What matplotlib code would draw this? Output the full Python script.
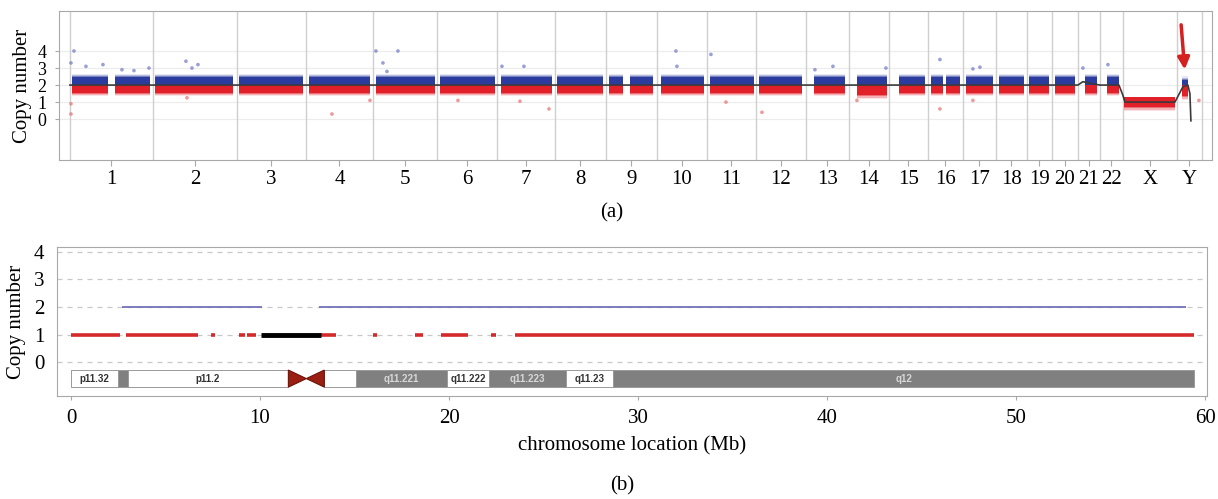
import numpy as np
import matplotlib.pyplot as plt

plt.rcParams['font.family'] = ['Liberation Serif', 'DejaVu Serif']

# ---------------- panel (a): whole-genome copy number ----------------
chrom_names = ['1', '2', '3', '4', '5', '6', '7', '8', '9', '10', '11', '12',
               '13', '14', '15', '16', '17', '18', '19', '20', '21', '22', 'X', 'Y']
chrom_len_mb = [249, 252, 207, 201, 192, 180, 174, 153, 153, 150, 147, 150,
                129, 120, 117, 105, 99, 93, 75, 78, 66, 69, 162, 75]
# probe-covered stretches inside each chromosome (Mb from chromosome start)
probe_segments = [
    [(6, 114), (135, 240)], [(6, 240)], [(6, 198)], [(9, 192)], [(9, 186)],
    [(9, 174)], [(12, 165)], [(6, 144)], [(9, 51), (72, 141)], [(12, 141)],
    [(9, 141)], [(9, 138)], [(24, 117)], [(24, 114)], [(30, 108)],
    [(9, 45), (54, 96)], [(9, 90)], [(9, 84)], [(6, 66)], [(9, 69)],
    [(21, 57)], [(21, 57)], [(3, 156)], [(15, 33)],
]
cloud_mid = [2.0] * 22 + [1.3, 2.0]
cloud_top = [2.45] * 22 + [1.3, 2.3]
cloud_bot = [1.55] * 13 + [1.4] + [1.55] * 8 + [0.7, 1.35]

# scattered outlier probes
out_chrom = ['1', '1', '1', '1', '1', '1', '1', '1', '1', '2', '2', '2', '2',
             '4', '4', '5', '5', '5', '5', '6', '7', '7', '7', '7', '10', '10',
             '11', '11', '12', '13', '13', '14', '14', '16', '16', '17', '17',
             '17', '21', '22', 'Y']
out_pos = [12, 3, 3, 3, 48, 99, 156, 192, 237, 99, 117, 135, 102,
           78, 192, 9, 75, 30, 42, 63, 15, 81, 69, 156, 57, 60,
           12, 57, 18, 81, 27, 111, 24, 36, 36, 30, 51,
           30, 15, 24, 66]
out_cn = [4.0, 3.3, 0.9, 0.3, 3.1, 3.2, 2.9, 2.85, 3.0, 3.4, 3.0, 3.2, 1.25,
          0.3, 1.1, 4.0, 4.0, 3.3, 2.8, 1.1, 3.1, 3.1, 1.05, 0.6, 4.0, 3.1,
          3.8, 1.0, 0.4, 3.1, 2.9, 3.0, 1.1, 3.5, 0.6, 2.95, 3.05,
          1.1, 3.0, 3.2, 1.1]

# smoothed segmentation line (genome Mb, copy number)
seg_x = [0, 3024, 3039, 3060, 3090, 3147, 3159, 3165, 3315, 3339, 3354, 3360, 3363]
seg_y = [2.0, 2.0, 2.2, 2.1, 2.0, 2.0, 1.4, 1.0, 1.0, 1.9, 2.0, 1.5, -0.1]

# ---------------- panel (b): single chromosome detail ----------------
band_names = ['p11.32', '', 'p11.2', '', '', 'q11.221', 'q11.222', 'q11.223', 'q11.23', 'q12']
band_start = [0, 2.5, 3.0, 11.5, 13.4, 15.1, 19.9, 22.1, 26.2, 28.7]
band_end = [2.5, 3.0, 11.5, 13.4, 15.1, 19.9, 22.1, 26.2, 28.7, 59.4]
band_stain = ['w', 'g', 'w', 'cen', 'w', 'g', 'w', 'g', 'w', 'g']

cn2_start = [2.7, 13.1]
cn2_end = [10.1, 59.0]
cn1_start = [0, 2.9, 7.4, 8.9, 9.3, 13.2, 16.0, 18.2, 19.6, 22.2, 23.5]
cn1_end = [2.6, 6.7, 7.6, 9.2, 9.8, 14.0, 16.2, 18.6, 21.0, 22.5, 59.4]
cn1_loss_start = [10.05]
cn1_loss_end = [13.2]

BLUE = '#2c3c9e'
RED = '#e2202a'
GRID = '#c8c8c8'
SPINE = '#a8a8a8'

fig = plt.figure(figsize=(12.18, 4.99), dpi=100)
ax_a = fig.add_axes([0.0484, 0.679, 0.9466, 0.299])
ax_b = fig.add_axes([0.0468, 0.206, 0.9442, 0.299])

# ----- panel (a) -----
offsets = np.concatenate([[0], np.cumsum(chrom_len_mb)])
total = offsets[-1]
for yv in [0, 1, 2, 3, 4]:
    ax_a.axhline(yv, color='#ececec', lw=0.8, zorder=0)
for b in offsets:
    ax_a.axvline(b, color='#cfcfcf', lw=1.0, zorder=1)

# soft edges: a few translucent layers around a dense core
halo = [(0.22, 0.12), (0.14, 0.25), (0.07, 0.45)]
for i, segs in enumerate(probe_segments):
    for s, e in segs:
        xs = [offsets[i] + s, offsets[i] + e]
        for ext, a in halo:
            if cloud_top[i] > cloud_mid[i]:
                ax_a.fill_between(xs, cloud_mid[i], cloud_top[i] + ext, color=BLUE,
                                  alpha=a, lw=0, zorder=2)
            ax_a.fill_between(xs, cloud_bot[i] - ext, cloud_mid[i], color=RED,
                              alpha=a, lw=0, zorder=2)
        if cloud_top[i] > cloud_mid[i]:
            ax_a.fill_between(xs, cloud_mid[i], cloud_top[i], color=BLUE, lw=0, zorder=3)
        ax_a.fill_between(xs, cloud_bot[i], cloud_mid[i], color=RED, lw=0, zorder=3)

ox = [offsets[chrom_names.index(c)] + p for c, p in zip(out_chrom, out_pos)]
oc = ['#7880c8' if v > 2 else '#e87878' for v in out_cn]
ax_a.scatter(ox, out_cn, s=7, c=oc, alpha=0.75, lw=0, zorder=4)

ax_a.plot(seg_x, seg_y, color='#3a3a3a', lw=1.2, zorder=5)

ax_a.annotate('', xy=(3345, 2.75), xytext=(3333, 5.7),
              arrowprops=dict(arrowstyle='-|>,head_length=0.7,head_width=0.35',
                              color='#d42020', lw=2.5), zorder=6)

ax_a.set_xlim(-33, total + 30)
ax_a.set_ylim(-2.41, 6.35)
centers = (offsets[:-1] + offsets[1:]) / 2
ax_a.set_xticks(centers)
ax_a.set_xticklabels(chrom_names, fontsize=15)
ax_a.set_yticks([0, 1, 2, 3, 4])
ax_a.set_yticklabels(['0', '1', '2', '3', '4'], fontsize=13)
ax_a.set_ylabel('Copy number', fontsize=15, labelpad=4)
ax_a.tick_params(axis='x', length=4, color=SPINE, pad=3)
ax_a.tick_params(axis='y', length=3, color=SPINE, pad=6)
for sp in ax_a.spines.values():
    sp.set_color(SPINE)

# ----- panel (b) -----
for yv in [0, 1, 2, 3, 4]:
    ax_b.axhline(yv, color=GRID, lw=0.9, ls=(0, (4, 4)), zorder=0)

ax_b.hlines([2] * len(cn2_start), cn2_start, cn2_end, color='#7272b8', lw=1.3, zorder=2)
ax_b.hlines([1] * len(cn1_start), cn1_start, cn1_end, color='#d42a2a', lw=2.6, zorder=2)
ax_b.hlines([1] * len(cn1_loss_start), cn1_loss_start, cn1_loss_end, color='black', lw=3.5, zorder=3)

ideo_lo, ideo_hi = -0.91, -0.29
for name, s, e, st in zip(band_names, band_start, band_end, band_stain):
    if st == 'cen':
        mid = (s + e) / 2
        ax_b.bar(s, ideo_hi - ideo_lo, e - s, bottom=ideo_lo, align='edge',
                 color='white', lw=0, zorder=2)
        ax_b.fill([s, mid, s], [ideo_hi, (ideo_lo + ideo_hi) / 2, ideo_lo],
                  color='#9a1f12', ec='#6a1208', lw=0.8, zorder=3)
        ax_b.fill([e, mid, e], [ideo_hi, (ideo_lo + ideo_hi) / 2, ideo_lo],
                  color='#9a1f12', ec='#6a1208', lw=0.8, zorder=3)
        continue
    fc = '#808080' if st == 'g' else 'white'
    ax_b.bar(s, ideo_hi - ideo_lo, e - s, bottom=ideo_lo, align='edge',
             color=fc, ec='#9a9a9a', lw=0.7, zorder=2)
    if name:
        ax_b.text((s + e) / 2, (ideo_lo + ideo_hi) / 2, name, ha='center', va='center',
                  fontsize=7, fontweight='bold', family='Liberation Sans',
                  color='#d8d8d8' if st == 'g' else '#333333', zorder=4)

ax_b.set_xlim(-0.74, 60.1)
ax_b.set_ylim(-1.24, 4.18)
ax_b.set_xticks([0, 10, 20, 30, 40, 50, 60])
ax_b.set_xticklabels(['0', '10', '20', '30', '40', '50', '60'], fontsize=15)
ax_b.set_yticks([0, 1, 2, 3, 4])
ax_b.set_yticklabels(['0', '1', '2', '3', '4'], fontsize=15)
ax_b.set_xlabel('chromosome location (Mb)', fontsize=15, labelpad=6)
ax_b.set_ylabel('Copy number', fontsize=15, labelpad=6)
ax_b.tick_params(axis='x', length=3, color=SPINE, pad=6)
ax_b.tick_params(axis='y', length=0, pad=9)
for sp in ax_b.spines.values():
    sp.set_color(SPINE)

fig.text(0.5025, 0.573, '(a)', ha='center', va='center', fontsize=15)
fig.text(0.511, 0.026, '(b)', ha='center', va='center', fontsize=15)

fig.savefig('out.png', dpi=100)
